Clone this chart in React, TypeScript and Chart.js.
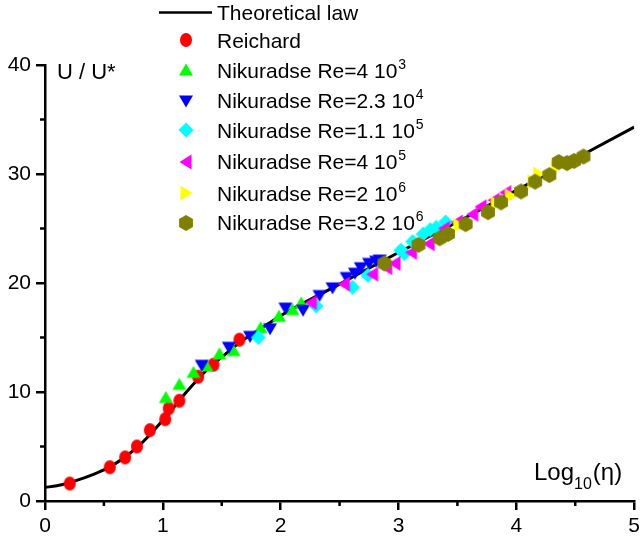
import React, { useEffect, useRef } from "react";
import { Chart, registerables } from "chart.js";

Chart.register(...registerables);

// ---- Data ----
const lawX = [0, 0.1, 0.2, 0.3, 0.4, 0.5, 0.6, 0.7, 0.8, 0.9, 1.0, 1.1, 1.2, 1.3, 1.4, 1.5, 1.6, 1.7, 1.8, 1.9, 2.0, 2.5, 3.0, 3.5, 4.0, 4.5, 5.0];
const lawU = [1.25, 1.4, 1.65, 2.0, 2.4, 2.85, 3.45, 4.2, 5.1, 6.2, 7.4, 8.7, 10.0, 11.2, 12.3, 13.2, 14.1, 14.9, 15.6, 16.3, 17.0, 19.9, 22.8, 25.6, 28.5, 31.4, 34.3];

const reichardX = [0.21, 0.55, 0.68, 0.78, 0.89, 1.02, 1.05, 1.14, 1.30, 1.43, 1.65];
const reichardU = [1.6, 3.1, 4.0, 5.0, 6.5, 7.5, 8.5, 9.2, 11.4, 12.5, 14.8];

const re4e3X = [1.025, 1.14, 1.26, 1.37, 1.48, 1.6, 1.83, 1.985, 2.1, 2.175];
const re4e3U = [9.5, 10.7, 11.8, 12.4, 13.5, 13.8, 15.9, 16.95, 17.56, 18.17];

const re23e4X = [1.33, 1.56, 1.74, 1.91, 2.04, 2.19, 2.33, 2.44, 2.56, 2.63, 2.68, 2.75, 2.81, 2.84];
const re23e4U = [12.45, 14.1, 15.1, 15.8, 17.7, 17.5, 18.85, 19.55, 20.5, 20.9, 21.4, 21.8, 22.0, 22.1];

const re11e5X = [1.81, 2.30, 2.61, 2.74, 3.02, 3.05, 3.12, 3.21, 3.27, 3.32, 3.40];
const re11e5U = [15.0, 17.9, 19.6, 20.7, 23.0, 22.7, 23.8, 24.5, 24.9, 25.1, 25.6];

const re4e5X = [2.26, 2.54, 2.78, 2.90, 2.97, 3.11, 3.26, 3.39, 3.50, 3.63, 3.70, 3.81, 3.91];
const re4e5U = [18.2, 19.9, 20.8, 21.4, 21.8, 22.8, 23.6, 25.0, 25.6, 26.3, 27.0, 27.6, 28.3];

const re2e6X = [3.51, 3.83, 3.95, 4.14, 4.19, 4.34];
const re2e6U = [25.3, 27.3, 28.0, 29.3, 30.0, 30.6];

const re32e6X = [2.88, 3.17, 3.35, 3.42, 3.57, 3.76, 3.87, 4.04, 4.16, 4.28, 4.36, 4.43, 4.49, 4.57];
const re32e6U = [21.8, 23.5, 24.1, 24.5, 25.4, 26.5, 27.4, 28.4, 29.3, 29.9, 31.1, 31.0, 31.2, 31.6];

const xTicks = [0, 1, 2, 3, 4, 5];
const yTicks = [0, 10, 20, 30, 40];

const legendMain = [
  "Theoretical law",
  "Reichard",
  "Nikuradse Re=4 10",
  "Nikuradse Re=2.3 10",
  "Nikuradse Re=1.1 10",
  "Nikuradse Re=4 10",
  "Nikuradse Re=2 10",
  "Nikuradse Re=3.2 10",
];
const legendSup = ["", "", "3", "4", "5", "5", "6", "6"];

const FONT = "'Liberation Sans', Arial, Helvetica, sans-serif";

type Kind = "ellipse" | "up" | "down" | "left" | "right" | "diamond" | "hex";

function makeMarker(kind: Kind, color: string): HTMLCanvasElement {
  const c = document.createElement("canvas");
  c.width = 18;
  c.height = 18;
  const ctx = c.getContext("2d")!;
  ctx.fillStyle = color;
  ctx.translate(9, 9);
  ctx.beginPath();
  switch (kind) {
    case "ellipse":
      ctx.ellipse(0, 0, 6, 7, 0, 0, Math.PI * 2);
      break;
    case "up":
      ctx.moveTo(0, -6.5);
      ctx.lineTo(7, 5.5);
      ctx.lineTo(-7, 5.5);
      break;
    case "down":
      ctx.moveTo(0, 6.5);
      ctx.lineTo(7, -5.5);
      ctx.lineTo(-7, -5.5);
      break;
    case "left":
      ctx.moveTo(-6.5, 0);
      ctx.lineTo(5.5, -7.5);
      ctx.lineTo(5.5, 7.5);
      break;
    case "right":
      ctx.moveTo(6.5, 0);
      ctx.lineTo(-5.5, -7.5);
      ctx.lineTo(-5.5, 7.5);
      break;
    case "diamond":
      ctx.moveTo(0, -7.5);
      ctx.lineTo(7.5, 0);
      ctx.lineTo(0, 7.5);
      ctx.lineTo(-7.5, 0);
      break;
    case "hex":
      for (let i = 0; i < 6; i++) {
        const a = -Math.PI / 2 + (i * Math.PI) / 3;
        const px = Math.cos(a) * 8;
        const py = Math.sin(a) * 8;
        if (i === 0) ctx.moveTo(px, py);
        else ctx.lineTo(px, py);
      }
      break;
  }
  ctx.closePath();
  ctx.fill();
  return c;
}

function pts(xs: number[], ys: number[]) {
  return xs.map((x, i) => ({ x, y: ys[i] }));
}

export default function App() {
  const ref = useRef<HTMLCanvasElement | null>(null);

  useEffect(() => {
    document.body.style.margin = "0";
    const canvas = ref.current!;
    const markers = [
      makeMarker("ellipse", "#ff0000"),
      makeMarker("up", "#00ff00"),
      makeMarker("down", "#0000ff"),
      makeMarker("diamond", "#00ffff"),
      makeMarker("left", "#ff00ff"),
      makeMarker("right", "#ffff00"),
      makeMarker("hex", "#808000"),
    ];

    const series = [
      { xs: reichardX, ys: reichardU },
      { xs: re4e3X, ys: re4e3U },
      { xs: re23e4X, ys: re23e4U },
      { xs: re11e5X, ys: re11e5U },
      { xs: re4e5X, ys: re4e5U },
      { xs: re2e6X, ys: re2e6U },
      { xs: re32e6X, ys: re32e6U },
    ];

    const scatterSets = series.map((s, i) => ({
      label: legendMain[i + 1] + legendSup[i + 1],
      data: pts(s.xs, s.ys),
      pointStyle: markers[i] as any,
      pointRadius: 7,
      showLine: false,
      order: 7 - i,
    }));

    const overlay = {
      id: "overlay",
      afterDraw(chart: any) {
        const ctx: CanvasRenderingContext2D = chart.ctx;
        const xs = chart.scales.x;
        const ys = chart.scales.y;
        const area = chart.chartArea;
        ctx.save();
        // minor ticks
        ctx.strokeStyle = "#000";
        ctx.lineWidth = 2.5;
        ctx.beginPath();
        for (let v = 5; v < 40; v += 10) {
          const py = ys.getPixelForValue(v);
          ctx.moveTo(area.left - 5, py);
          ctx.lineTo(area.left, py);
        }
        for (let v = 0.5; v < 5; v += 1) {
          const px = xs.getPixelForValue(v);
          ctx.moveTo(px, area.bottom);
          ctx.lineTo(px, area.bottom + 5);
        }
        ctx.stroke();

        // axis titles
        ctx.fillStyle = "#000";
        ctx.textBaseline = "alphabetic";
        ctx.textAlign = "left";
        ctx.font = `22px ${FONT}`;
        ctx.fillText("U / U*", 57, 78.5);

        let tx = 534;
        const by = 480;
        ctx.font = `24px ${FONT}`;
        ctx.fillText("Log", tx, by);
        tx += ctx.measureText("Log").width;
        ctx.font = `16px ${FONT}`;
        ctx.fillText("10", tx, by + 9);
        tx += ctx.measureText("10").width + 1;
        ctx.font = `24px ${FONT}`;
        ctx.fillText("(\u03b7)", tx, by);

        // legend
        const rowY = [12.5, 40, 70.3, 100.8, 130, 161.7, 193, 222.5];
        const symX = 186;
        const textX = 217;
        ctx.lineWidth = 2.5;
        ctx.beginPath();
        ctx.moveTo(159, rowY[0]);
        ctx.lineTo(212, rowY[0]);
        ctx.stroke();
        for (let i = 0; i < legendMain.length; i++) {
          const y = rowY[i];
          if (i > 0) {
            ctx.drawImage(markers[i - 1], symX - 9, Math.round(y) - 9);
          }
          ctx.font = `21px ${FONT}`;
          ctx.fillText(legendMain[i], textX, y + 7.5);
          if (legendSup[i]) {
            const w = ctx.measureText(legendMain[i]).width;
            ctx.font = `14px ${FONT}`;
            ctx.fillText(legendSup[i], textX + w + 1, y - 1.5);
          }
        }
        ctx.restore();
      },
    };

    const chart = new Chart(canvas, {
      type: "scatter",
      data: {
        datasets: [
          {
            label: legendMain[0],
            data: pts(lawX, lawU),
            showLine: true,
            borderColor: "#000",
            borderWidth: 3,
            pointRadius: 0,
            cubicInterpolationMode: "monotone",
            order: 10,
          } as any,
          ...scatterSets,
        ],
      },
      plugins: [overlay],
      options: {
        animation: false,
        responsive: false,
        events: [],
        layout: { padding: { top: 65, right: 9, left: 0, bottom: 0 } },
        plugins: {
          legend: { display: false },
          tooltip: { enabled: false },
        },
        scales: {
          x: {
            type: "linear",
            min: 0,
            max: 5,
            afterBuildTicks: (s: any) => {
              s.ticks = xTicks.map((v) => ({ value: v }));
            },
            afterFit: (s: any) => {
              s.height = 39;
            },
            ticks: {
              color: "#000",
              font: { family: FONT, size: 21 },
              padding: 4,
              maxRotation: 0,
            },
            grid: {
              display: true,
              drawOnChartArea: false,
              drawTicks: true,
              tickLength: 9,
              color: "#000",
              lineWidth: 2.5,
            },
            border: { display: true, color: "#000", width: 2.5 },
          },
          y: {
            type: "linear",
            min: 0,
            max: 40,
            afterBuildTicks: (s: any) => {
              s.ticks = yTicks.map((v) => ({ value: v }));
            },
            afterFit: (s: any) => {
              s.width = 45;
            },
            ticks: {
              color: "#000",
              font: { family: FONT, size: 21 },
              padding: 5,
            },
            grid: {
              display: true,
              drawOnChartArea: false,
              drawTicks: true,
              tickLength: 9,
              color: "#000",
              lineWidth: 2.5,
            },
            border: { display: true, color: "#000", width: 2.5 },
          },
        },
      } as any,
    });

    return () => chart.destroy();
  }, []);

  return (
    <canvas
      ref={ref}
      width={644}
      height={540}
      style={{ display: "block", width: 644, height: 540 }}
    />
  );
}
